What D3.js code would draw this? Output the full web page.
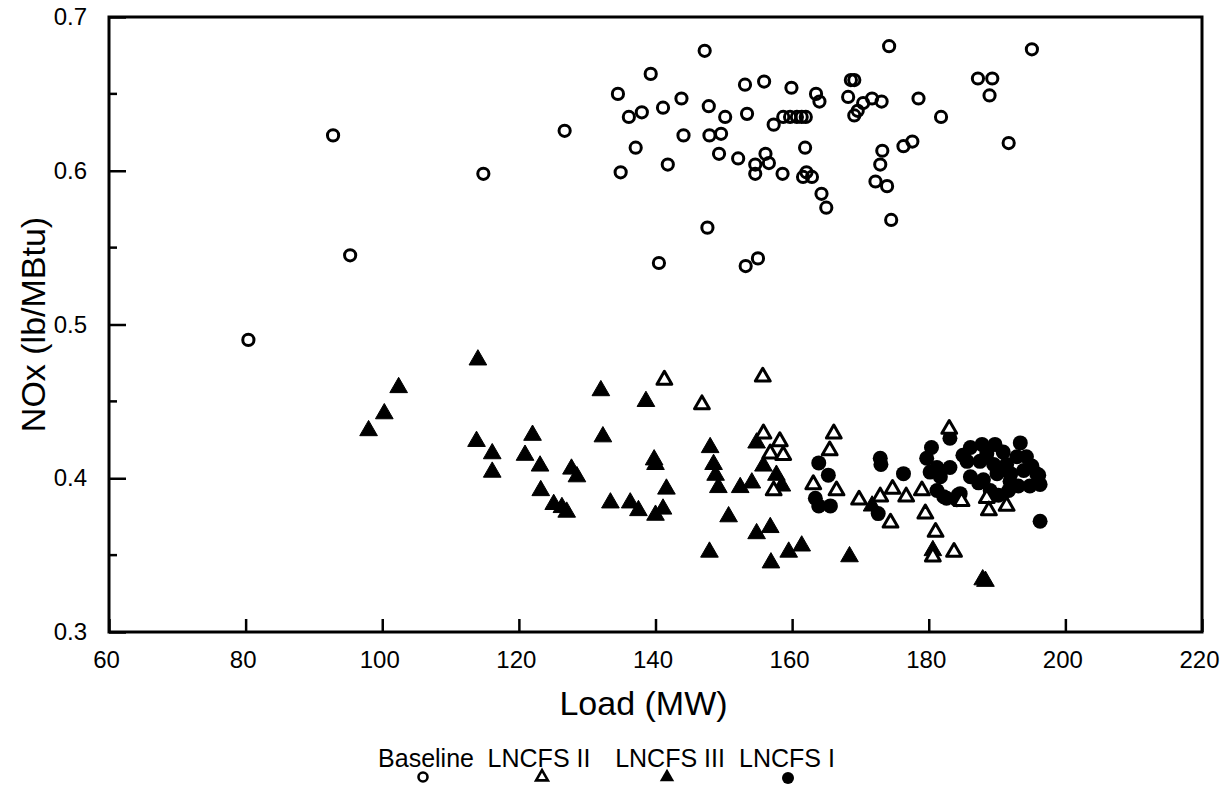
<!doctype html>
<html>
<head>
    <title>NOx vs Load</title>
    <style>
body {
  margin: 0;
  background-color: white;
}
svg {
  display: block;
  font-family: "Liberation Sans", Arial, sans-serif;
}
    </style>
</head>
<body>
<svg width="1226" height="785" id="chart"></svg>
<script src="https://d3js.org/d3.v7.min.js"></script>
<script>
// load (MW), NOx (lb/MBtu)
var baseline = [
  [80.4,0.490],[92.8,0.623],[95.3,0.545],[114.8,0.598],[126.7,0.626],[134.5,0.650],[134.9,0.599],
  [136.1,0.635],[137.1,0.615],[138.0,0.638],[139.3,0.663],[140.5,0.540],[141.1,0.641],[141.8,0.604],
  [143.8,0.647],[144.1,0.623],[147.2,0.678],[147.6,0.563],[147.8,0.642],[147.9,0.623],[149.3,0.611],
  [149.6,0.624],[150.2,0.635],[152.1,0.608],[153.1,0.656],[153.2,0.538],[153.4,0.637],[154.6,0.604],
  [154.6,0.598],[155.0,0.543],[155.9,0.658],[156.1,0.611],[156.6,0.605],[157.3,0.630],[158.6,0.598],
  [158.7,0.635],[159.7,0.635],[159.9,0.654],[160.7,0.635],[161.4,0.635],[161.6,0.596],[161.9,0.615],
  [162.0,0.635],[162.1,0.599],[162.9,0.596],[163.5,0.650],[164.0,0.645],[164.3,0.585],[165.0,0.576],
  [168.2,0.648],[168.6,0.659],[169.1,0.659],[169.1,0.636],[169.6,0.639],[170.4,0.644],[171.7,0.647],
  [172.2,0.593],[172.9,0.604],[173.1,0.645],[173.2,0.613],[173.9,0.590],[174.2,0.681],[174.5,0.568],
  [176.3,0.616],[177.6,0.619],[178.5,0.647],[181.8,0.635],[187.2,0.660],[188.9,0.649],[189.3,0.660],
  [191.7,0.618],[195.1,0.679]
];
var lncfs2 = [
  [141.3,0.464],[146.8,0.448],[155.7,0.466],[155.8,0.429],[156.8,0.416],[158.2,0.424],[158.7,0.415],
  [157.3,0.392],[163.1,0.396],[165.5,0.418],[166.1,0.429],[166.5,0.392],[169.8,0.386],[172.9,0.388],
  [174.4,0.371],[174.7,0.393],[176.7,0.388],[179.0,0.392],[179.5,0.377],[180.6,0.349],[181.0,0.365],
  [183.0,0.432],[183.7,0.352],[184.8,0.385],[188.5,0.387],[188.8,0.379],[191.4,0.382]
];
var lncfs3 = [
  [98.0,0.431],[100.3,0.442],[102.4,0.459],[113.8,0.424],[114.0,0.477],[116.1,0.416],[116.1,0.404],
  [120.9,0.415],[122.0,0.428],[123.1,0.408],[123.2,0.392],[125.1,0.383],[126.3,0.381],[127.0,0.378],
  [127.7,0.406],[128.5,0.401],[132.0,0.457],[132.3,0.427],[133.4,0.384],[136.3,0.384],[137.5,0.379],
  [138.6,0.450],[139.8,0.412],[140.0,0.409],[140.0,0.376],[141.1,0.380],[141.6,0.393],[147.9,0.352],
  [148.0,0.420],[148.5,0.409],[148.8,0.402],[149.2,0.394],[150.7,0.375],[152.4,0.394],[154.1,0.397],
  [154.8,0.423],[154.8,0.364],[155.8,0.408],[156.8,0.368],[156.9,0.345],[157.7,0.402],[158.5,0.395],
  [159.5,0.352],[161.4,0.356],[168.4,0.349],[171.7,0.382],[180.6,0.353],[187.9,0.334],[188.3,0.333]
];
var lncfs1 = [
  [163.9,0.410],[165.3,0.402],[163.4,0.387],[163.9,0.382],[165.6,0.382],[172.9,0.413],[173.0,0.409],
  [172.6,0.377],[176.3,0.403],[183.1,0.426],[180.4,0.420],[179.7,0.413],[180.2,0.404],[181.7,0.401],
  [183.1,0.407],[181.2,0.392],[182.6,0.387],[184.3,0.389],[186.1,0.420],[187.8,0.422],[189.7,0.422],
  [190.9,0.417],[185.6,0.411],[187.5,0.411],[189.5,0.409],[191.4,0.409],[186.1,0.401],[187.3,0.397],
  [193.4,0.423],[194.3,0.414],[195.1,0.408],[196.1,0.402],[196.3,0.396],[194.8,0.395],[193.1,0.395],
  [191.7,0.392],[190.2,0.389],[189.0,0.388],[196.3,0.372],[192.9,0.414],[190.0,0.403],[192.0,0.403],
  [193.9,0.405],[188.0,0.399],[184.6,0.390],[182.2,0.388],[188.5,0.416],[191.9,0.398],[189.0,0.392],
  [195.8,0.403],[181.2,0.407],[184.1,0.386],[185.0,0.415]
];
var xTicks = [60, 80, 100, 120, 140, 160, 180, 200, 220];
var yTicks = [0.3, 0.4, 0.5, 0.6, 0.7];
var yMinor = [0.35, 0.45, 0.55, 0.65];
var legendNames = ["Baseline", "LNCFS II", "LNCFS III", "LNCFS I"];

var svg = d3.select("#chart");
var plotLeft = 109, plotRight = 1202, plotTop = 17, plotBottom = 632;

var x = d3.scaleLinear().domain([60, 220]).range([plotLeft, plotRight]);
var y = d3.scaleLinear().domain([0.3, 0.7]).range([plotBottom, plotTop]);

// axes: ticks point inward
var yAxis = d3.axisLeft(y).tickValues(yTicks).tickSize(-17).tickPadding(22)
    .tickFormat(d3.format(".1f"));
var gy = svg.append("g").attr("transform", "translate(" + plotLeft + ",0)").call(yAxis);
gy.attr("font-size", 24).attr("font-family", "Liberation Sans, Arial, sans-serif");
gy.select(".domain").remove();
gy.selectAll("line").attr("stroke", "#000").attr("stroke-width", 2.5);
gy.selectAll("text").attr("fill", "#000");

svg.append("g").selectAll("line").data(yMinor).enter().append("line")
    .attr("x1", plotLeft).attr("x2", plotLeft + 8)
    .attr("y1", function(d) { return y(d); }).attr("y2", function(d) { return y(d); })
    .attr("stroke", "#000").attr("stroke-width", 2.5);

var xAxis = d3.axisBottom(x).tickValues(xTicks).tickSize(-13).tickPadding(19);
var gx = svg.append("g").attr("transform", "translate(0," + plotBottom + ")").call(xAxis);
gx.attr("font-size", 24).attr("font-family", "Liberation Sans, Arial, sans-serif");
gx.select(".domain").remove();
gx.selectAll("line").attr("stroke", "#000").attr("stroke-width", 2.5);
gx.selectAll("text").attr("fill", "#000").attr("dx", "-3");

// frame
svg.append("rect")
    .attr("x", plotLeft).attr("y", plotTop)
    .attr("width", plotRight - plotLeft).attr("height", plotBottom - plotTop)
    .attr("fill", "none").attr("stroke", "#000").attr("stroke-width", 3);

// axis titles
svg.append("text")
    .attr("x", (plotLeft + plotRight) / 2 - 12).attr("y", 715)
    .attr("text-anchor", "middle").attr("font-size", 34)
    .text("Load (MW)");
svg.append("text")
    .attr("transform", "translate(45," + ((plotTop + plotBottom) / 2) + ") rotate(-90)")
    .attr("text-anchor", "middle").attr("font-size", 34)
    .text("NOx (lb/MBtu)");

// markers
var triFill = d3.symbol().type(d3.symbolTriangle).size(135);
var triOpen = d3.symbol().type(d3.symbolTriangle).size(95);

function drawCircles(data, filled) {
  svg.append("g").selectAll("circle").data(data).enter().append("circle")
    .attr("cx", function(d) { return x(d[0]); })
    .attr("cy", function(d) { return y(d[1]); })
    .attr("r", filled ? 7.5 : 5.6)
    .attr("fill", filled ? "#000" : "none")
    .attr("stroke", "#000")
    .attr("stroke-width", filled ? 0 : 3);
}
function drawTriangles(data, filled) {
  svg.append("g").selectAll("path").data(data).enter().append("path")
    .attr("d", filled ? triFill : triOpen)
    .attr("transform", function(d) { return "translate(" + x(d[0]) + "," + y(d[1]) + ")"; })
    .attr("fill", filled ? "#000" : "#fff")
    .attr("stroke", "#000")
    .attr("stroke-width", filled ? 1 : 3)
    .attr("stroke-linejoin", "round");
}

drawCircles(baseline, false);
drawTriangles(lncfs3, true);
drawCircles(lncfs1, true);
drawTriangles(lncfs2, false);

// legend: label with its marker underneath
var legendX = [426, 539, 670, 787];
var legendMarkX = [423, 542, 667, 788];
var lg = svg.append("g");
lg.selectAll("text").data(legendNames).enter().append("text")
    .attr("x", function(d, i) { return legendX[i]; })
    .attr("y", 767)
    .attr("text-anchor", "middle")
    .attr("font-size", 25)
    .text(function(d) { return d; });

lg.append("circle").attr("cx", legendMarkX[0]).attr("cy", 777).attr("r", 4.5)
    .attr("fill", "none").attr("stroke", "#000").attr("stroke-width", 2.6);
lg.append("path").attr("d", d3.symbol().type(d3.symbolTriangle).size(60))
    .attr("transform", "translate(" + legendMarkX[1] + ",777)")
    .attr("fill", "#fff").attr("stroke", "#000").attr("stroke-width", 2.6);
lg.append("path").attr("d", d3.symbol().type(d3.symbolTriangle).size(90))
    .attr("transform", "translate(" + legendMarkX[2] + ",777)")
    .attr("fill", "#000");
lg.append("circle").attr("cx", legendMarkX[3]).attr("cy", 778).attr("r", 6)
    .attr("fill", "#000");
</script>
</body>
</html>
